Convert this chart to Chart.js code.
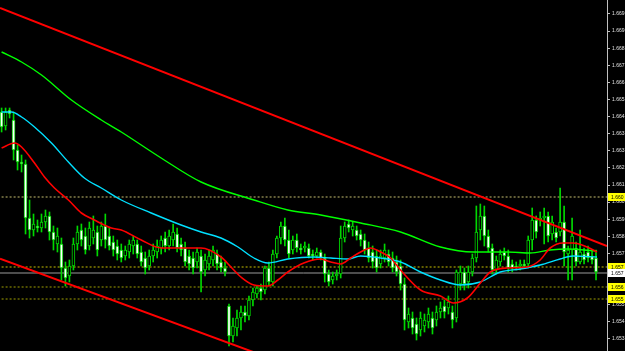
<!DOCTYPE html>
<html><head><meta charset="utf-8">
<script src="https://cdn.jsdelivr.net/npm/chart.js@4/dist/chart.umd.min.js"></script>
<style>html,body{margin:0;padding:0;background:#000;overflow:hidden}#wrap{width:625px;height:351px;position:relative}</style>
</head><body><div id="wrap"><canvas id="c" width="625" height="351"></canvas></div>
<script>
// ---- candle data (price) ----
const opens=[1.6644,1.6637,1.6645,1.6640,1.6625,1.6619,1.6618,1.6591,1.6585,1.6587,1.6586,1.6589,1.6592,1.6584,1.6578,1.6578,1.6566,1.6562,1.6567,1.6578,
1.6585,1.6582,1.6577,1.6581,1.6584,1.6580,1.6587,1.6582,1.6579,1.6577,1.6575,1.6572,1.6574,1.6577,1.6578,1.6574,1.6571,1.6567,1.6572,1.6574,
1.6576,1.6581,1.6577,1.6580,1.6583,1.6578,1.6576,1.6572,1.6571,1.6569,1.6572,1.6565,1.6568,1.6570,1.6573,1.6569,1.6566,1.6547,1.6532,1.6536,
1.6541,1.6544,1.6542,1.6550,1.6553,1.6556,1.6555,1.6566,1.6559,1.6573,1.6581,1.6587,1.6580,1.6575,1.6580,1.6576,1.6576,1.6576,1.6573,1.6572,
1.6574,1.6571,1.6563,1.6560,1.6562,1.6563,1.6581,1.6588,1.6585,1.6585,1.6583,1.6580,1.6576,1.6574,1.6572,1.6568,1.6571,1.6573,1.6571,1.6569,
1.6567,1.6558,1.6539,1.6541,1.6538,1.6535,1.6537,1.6539,1.6541,1.6540,1.6544,1.6547,1.6546,1.6544,1.6541,1.6558,1.6564,1.6559,1.6564,1.6571,
1.6585,1.6592,1.6582,1.6576,1.6565,1.6569,1.6574,1.6572,1.6568,1.6567,1.6567,1.6568,1.6568,1.6580,1.6590,1.6590,1.6591,1.6592,1.6583,1.6584,
1.6584,1.6589,1.6573,1.6575,1.6576,1.6569,1.6573,1.6574,1.6572,1.6571];
const highs=[1.6646,1.6646,1.6646,1.6644,1.66275,1.66225,1.6620,1.6600,1.6593,1.6590,1.6593,1.6595,1.6594,1.6587,1.6586,1.6581,1.6569,1.6570,1.6581,1.6587,
1.6588,1.6586,1.6589,1.6592,1.6587,1.6589,1.6593,1.6586,1.6582,1.6580,1.6578,1.6577,1.6580,1.6582,1.6580,1.6577,1.6574,1.6575,1.6578,1.6580,
1.6582,1.6584,1.6585,1.6588,1.6586,1.6581,1.6579,1.6575,1.6574,1.6576,1.6575,1.6573,1.6575,1.6577,1.6575,1.6572,1.6569,1.6548,1.6541,1.6545,
1.6547,1.6547,1.6552,1.6556,1.6557,1.6558,1.6567,1.6569,1.6575,1.6582,1.6589,1.6591,1.6585,1.6582,1.6583,1.6578,1.6579,1.6578,1.6575,1.6576,
1.6575,1.6573,1.6565,1.6564,1.6565,1.6587,1.6589,1.6590,1.6589,1.6587,1.6585,1.6583,1.6579,1.6577,1.6575,1.6575,1.6578,1.6575,1.6574,1.6572,
1.6570,1.6561,1.6546,1.6544,1.6541,1.6544,1.6543,1.6546,1.6544,1.6547,1.6549,1.6550,1.6552,1.6547,1.6565,1.6567,1.6566,1.6567,1.6573,1.6597,
1.6598,1.6597,1.6585,1.6578,1.6572,1.6575,1.6576,1.6575,1.6570,1.6569,1.6570,1.6570,1.6582,1.6596,1.6592,1.6594,1.6596,1.6594,1.6592,1.6586,
1.6606,1.6597,1.6577,1.6591,1.6579,1.6585,1.6576,1.6577,1.6575,1.6575];
const lows=[1.6634,1.6635,1.6641,1.6620,1.6615,1.6614,1.6583,1.6581,1.6582,1.6584,1.6584,1.6586,1.6580,1.6575,1.6574,1.6560,1.6557,1.6559,1.6565,1.6575,
1.6577,1.6573,1.6575,1.6578,1.6572,1.6577,1.6576,1.6575,1.6572,1.6570,1.6569,1.6570,1.6571,1.6573,1.6571,1.6567,1.6563,1.6565,1.6569,1.6571,
1.6573,1.6574,1.6575,1.6577,1.6574,1.6572,1.6567,1.6565,1.6563,1.6566,1.6554,1.6562,1.6565,1.6567,1.6565,1.6564,1.6562,1.6527,1.6529,1.6532,
1.6535,1.6539,1.6540,1.6547,1.6551,1.6550,1.6553,1.6557,1.6557,1.6571,1.6578,1.6577,1.6571,1.6573,1.6574,1.6573,1.6574,1.6571,1.6570,1.6571,
1.6570,1.6559,1.6557,1.6558,1.6560,1.6561,1.6579,1.6584,1.6582,1.6580,1.6577,1.6573,1.6569,1.6566,1.6564,1.6566,1.6569,1.6567,1.6564,1.6562,
1.6555,1.6535,1.6536,1.6533,1.6530,1.6532,1.6534,1.6536,1.6533,1.6537,1.6541,1.6541,1.6543,1.6536,1.6539,1.6555,1.6555,1.6556,1.6562,1.6569,
1.6580,1.6577,1.6574,1.6563,1.6563,1.6567,1.6570,1.6564,1.6564,1.6565,1.6565,1.6566,1.6566,1.6575,1.6581,1.6587,1.6578,1.6579,1.6580,1.6579,
1.6582,1.6567,1.6560,1.6560,1.6567,1.6568,1.6568,1.6569,1.6568,1.6560];
const closes=[1.66365,1.6644,1.6643,1.6625,1.6619,1.6618,1.6591,1.6585,1.6588,1.6586,1.6589,1.6592,1.6584,1.6580,1.6582,1.6566,1.6561,1.6567,1.6578,1.6584,
1.6580,1.6575,1.6586,1.6585,1.6575,1.6587,1.6580,1.6577,1.6575,1.6573,1.6571,1.6575,1.6578,1.6580,1.6573,1.6569,1.6566,1.6572,1.6575,1.6577,
1.6580,1.6577,1.6582,1.6584,1.6576,1.6575,1.6569,1.6568,1.6566,1.6574,1.6564,1.6570,1.6572,1.6575,1.6568,1.6566,1.6564,1.6532,1.6537,1.6541,
1.6544,1.6542,1.6550,1.6554,1.6556,1.6554,1.6566,1.6559,1.6573,1.6581,1.6587,1.6580,1.6573,1.6580,1.6576,1.6575,1.6577,1.6572,1.6572,1.6574,
1.6571,1.6563,1.6559,1.6562,1.6563,1.6581,1.6587,1.6586,1.6587,1.6582,1.6580,1.6575,1.6571,1.6569,1.6566,1.6572,1.6575,1.6569,1.6566,1.6564,
1.6558,1.6540,1.6543,1.6536,1.6533,1.6541,1.6540,1.6543,1.6536,1.6544,1.6546,1.6544,1.6549,1.6540,1.6564,1.6564,1.6558,1.6564,1.6571,1.6584,
1.6592,1.6582,1.6576,1.6565,1.6570,1.6573,1.6572,1.6566,1.6566,1.6566,1.6568,1.6567,1.6580,1.6590,1.6584,1.6591,1.6592,1.6582,1.6589,1.6581,
1.6589,1.6574,1.6575,1.6582,1.6569,1.6574,1.6570,1.6571,1.6570,1.6564];

// ---- moving averages (bar index, price) ----
const maSlowX=[0,5,10,17.5,25,30,40,50,63.25,71.75,80,90,100,110,118.25,126.75,132.5,137.5,141.75,149.25];
const maSlowY=[1.6674,1.6669,1.66625,1.6650,1.6640,1.6634,1.6621,1.6609,1.6600,1.6595,1.65925,1.65885,1.6584,1.65765,1.6574,1.6574,1.65735,1.6575,1.65755,1.65745];
const maMidX=[0,2.5,5,8.25,12.5,16.75,20.75,25,30,37.5,45,50,55,59.25,63.25,66.75,71.75,78.25,82.5,86.75,90,95,100,105,110,115,120,125,130,135,140,143.25,149.25];
const maMidY=[1.6644,1.6644,1.66415,1.66365,1.66285,1.6619,1.6611,1.6606,1.6600,1.65935,1.65875,1.6584,1.6581,1.65765,1.6571,1.65685,1.65705,1.65715,1.6571,1.65705,1.6572,1.6571,1.6569,1.6564,1.6560,1.65575,1.6559,1.6564,1.65655,1.65675,1.65705,1.6572,1.65715];
const maFastX=[0,3.25,5,8.25,10.75,13.25,16.75,20,23.25,27.5,30,35,40,45,50,55,57.5,60,63.25,66.75,69.25,71.75,75.75,80,82.5,85,87.5,90,92.5,95,97.5,100,105,110,113.25,116.75,120,122.5,126.75,131.75,135,137.5,140.75,143.25,146.75,149.25];
const maFastY=[1.6626,1.66285,1.66265,1.66185,1.66115,1.6606,1.6600,1.65935,1.6590,1.6586,1.6585,1.6580,1.6576,1.6576,1.6576,1.65715,1.65665,1.65615,1.65575,1.6557,1.6560,1.6564,1.65685,1.65705,1.6569,1.6568,1.6571,1.6574,1.6576,1.6574,1.6571,1.6565,1.6555,1.6552,1.65485,1.6551,1.65585,1.6564,1.6566,1.65665,1.6570,1.6576,1.65785,1.65785,1.65765,1.6574];

// ---- trend channel (bar index, price) ----
const trendUpX=[-0.4,151.75], trendUpY=[1.66960,1.65770];
const trendLowX=[-0.4,70], trendLowY=[1.65707,1.65189];

// ---- horizontal levels ----
const levelPrices=[1.66015,1.65665,1.65635,1.65565,1.65505];
const levelLabels=["1.660","1.657","1.657","1.656","1.655"];

// ---- price axis ----
const tickValues=[1.6693,1.668445,1.66759,1.666735,1.66588,1.665025,1.66417,1.663315,1.66246,1.661605,1.66075,1.659895,1.65904,1.658185,1.65733,1.656475,1.65562,1.654765,1.65391,1.653055];
const tickLabels=["1.669","1.669","1.668","1.667","1.666","1.665","1.664","1.663","1.663","1.662","1.661","1.660","1.659","1.658","1.657","1.656","1.656","1.655","1.654","1.653"];

const GREEN='#00d800';
const levelStyle=[
 {color:'#c8c070',dash:[2,2],box:'#ffff00'},
 {color:'#c8c000',dash:[2,2],box:'#ffff00'},
 {color:'#9a9a9a',dash:[],box:'#ffffff'},
 {color:'#a0a000',dash:[2,2],box:'#ffff00'},
 {color:'#a0a000',dash:[2,2],box:'#ffff00'}
];

const pts=(xs,ys)=>xs.map((x,i)=>({x:x,y:ys[i]}));
const datasets=[];
function maSet(xs,ys,color,w){return {type:'line',data:pts(xs,ys),borderColor:color,borderWidth:w,pointRadius:0,cubicInterpolationMode:'monotone',order:0};}
datasets.push(maSet(maFastX,maFastY,'#ff0000',1.6));
datasets.push(maSet(maMidX,maMidY,'#00e0ff',1.4));
datasets.push(maSet(maSlowX,maSlowY,'#00ff00',1.4));
datasets.push({type:'line',data:pts(trendUpX,trendUpY),borderColor:'#ff0000',borderWidth:2,pointRadius:0,order:0});
datasets.push({type:'line',data:pts(trendLowX,trendLowY),borderColor:'#ff0000',borderWidth:2,pointRadius:0,order:0});
datasets.push({type:'bar',data:opens.map((o,i)=>({x:i,y:[o,closes[i]]})),
  backgroundColor:ctx=>{const i=ctx.dataIndex;return closes[i]<opens[i]?'#ffffff':'#000000';},
  borderColor:GREEN,borderWidth:1,borderSkipped:false,barThickness:3,minBarLength:1,grouped:false,order:1});
datasets.push({type:'bar',data:lows.map((l,i)=>({x:i,y:[l,highs[i]]})),
  backgroundColor:GREEN,borderWidth:0,barThickness:1,grouped:false,order:2});
levelPrices.forEach((p,k)=>{
  datasets.push({type:'line',data:[{x:-1,y:p},{x:160,y:p}],borderColor:levelStyle[k].color,borderWidth:1,borderDash:levelStyle[k].dash,pointRadius:0,order:3});
});

const bgPlugin={id:'bg',beforeDraw(c){const g=c.ctx;g.save();g.fillStyle='#000';g.fillRect(0,0,c.width,c.height);g.restore();}};
const boxPlugin={id:'boxes',afterDraw(c){
  const g=c.ctx, ys=c.scales.y; g.save();
  g.font='5px "Liberation Sans"'; g.textBaseline='middle';
  levelPrices.forEach((p,k)=>{const y=Math.round(ys.getPixelForValue(p));
    g.fillStyle=levelStyle[k].box; g.fillRect(608,y-4,17,8);
    g.fillStyle='#000'; g.fillText(levelLabels[k],611,y+0.5);});
  g.restore();}};

new Chart(document.getElementById('c'),{
  type:'bar',
  data:{datasets:datasets},
  options:{
    responsive:false,animation:false,devicePixelRatio:1,
    layout:{padding:0},
    plugins:{legend:{display:false},tooltip:{enabled:false}},
    scales:{
      x:{type:'linear',display:false,min:-0.4,max:151.75,offset:false},
      y:{type:'linear',position:'right',min:1.65245,max:1.6700,
        afterBuildTicks:s=>{s.ticks=tickValues.map(v=>({value:v}));},
        afterFit:s=>{s.width=18;s.paddingTop=0;s.paddingBottom=0;},
        grid:{drawOnChartArea:false,color:'#c0c0c0',tickLength:3},
        border:{display:true,color:'#c0c0c0'},
        ticks:{autoSkip:false,padding:2,color:'#e0e0e0',font:{family:'Liberation Sans',size:5},callback:(v,i)=>tickLabels[i]}
      }
    }
  },
  plugins:[bgPlugin,boxPlugin]
});
</script></body></html>
